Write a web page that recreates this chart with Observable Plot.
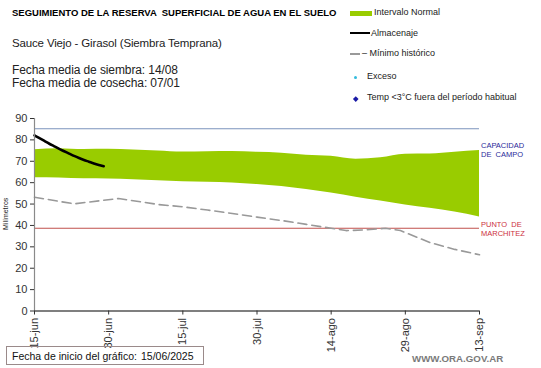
<!DOCTYPE html>
<html><head><meta charset="utf-8">
<script src="https://cdn.jsdelivr.net/npm/d3@7"></script>
<script src="https://cdn.jsdelivr.net/npm/@observablehq/plot@0.6"></script>
<style>
html,body{margin:0;padding:0;background:#fff;}
#wrap{position:relative;width:541px;height:368px;font-family:"Liberation Sans",Arial,sans-serif;overflow:hidden;}
.t{position:absolute;white-space:pre;line-height:1;}
</style></head><body>
<div id="wrap">
  <div class="t" style="left:12px;top:8px;font-size:9.5px;font-weight:bold;color:#000;">SEGUIMIENTO DE LA RESERVA  SUPERFICIAL DE AGUA EN EL SUELO</div>
  <div class="t" style="left:12px;top:38px;font-size:11.5px;letter-spacing:-0.15px;color:#222;">Sauce Viejo - Girasol (Siembra Temprana)</div>
  <div class="t" style="left:12px;top:64px;font-size:12px;letter-spacing:-0.1px;color:#222;">Fecha media de siembra: 14/08</div>
  <div class="t" style="left:12px;top:77px;font-size:12px;letter-spacing:-0.1px;color:#222;">Fecha media de cosecha: 07/01</div>

  <div style="position:absolute;left:350px;top:11px;width:22px;height:5px;background:#99cc00;"></div>
  <div class="t" style="left:374px;top:8px;font-size:9px;color:#222;">Intervalo Normal</div>
  <div style="position:absolute;left:350px;top:32px;width:20px;height:2px;background:#000;"></div>
  <div class="t" style="left:371px;top:29px;font-size:9px;color:#222;">Almacenaje</div>
  <div style="position:absolute;left:350px;top:53px;width:10px;height:1.5px;background:#999;"></div>
  <div class="t" style="left:362px;top:49px;font-size:9px;color:#222;">– Mínimo histórico</div>
  <div style="position:absolute;left:353.5px;top:76px;width:3px;height:3px;border-radius:50%;background:#33bbdd;"></div>
  <div class="t" style="left:367px;top:72px;font-size:9px;color:#222;">Exceso</div>
  <div style="position:absolute;left:353.5px;top:97px;width:3.5px;height:3.5px;transform:rotate(45deg);background:#1a1aa6;"></div>
  <div class="t" style="left:367px;top:93px;font-size:9px;color:#222;">Temp &lt;3°C fuera del período habitual</div>

  <div id="chart" style="position:absolute;left:0;top:0;"></div>

  <div class="t" style="left:481px;top:141px;font-size:7.5px;color:#2a2a9a;line-height:9px;">CAPACIDAD
DE  CAMPO</div>
  <div class="t" style="left:481px;top:220px;font-size:7.5px;color:#cc3040;line-height:9px;">PUNTO  DE
MARCHITEZ</div>
  <div class="t" style="left:2px;top:230px;font-size:7px;color:#222;transform:rotate(-90deg);transform-origin:0 0;">Milímetros</div>

  <div style="position:absolute;left:6px;top:346px;width:198px;height:19px;border:1px solid #9a8a8a;box-sizing:border-box;"></div>
  <div class="t" style="left:12px;top:351px;font-size:10.5px;color:#111;">Fecha de inicio del gráfico:</div>
  <div class="t" style="left:141px;top:351px;font-size:10.5px;color:#111;">15/06/2025</div>
  <div class="t" style="left:412px;top:354px;font-size:9.7px;font-weight:bold;color:#7a7a7a;">WWW.ORA.GOV.AR</div>
</div>
<script>
// ---- data ----
const fechaInicio = "2025-06-15";
const diasBanda = [0,5,10,15,20,25,30,35,40,45,50,55,60,65,70,75,80,85,90];
const bandaSuperior = [75.4,75.9,75.5,75.6,75.3,74.8,74.3,74.5,74.6,74.2,73.8,72.8,72.3,71.0,71.6,73.3,73.4,74.2,75.0];
const bandaInferior = [62.3,62.2,61.8,61.7,61.4,60.9,60.4,60.2,59.9,59.1,58.2,56.8,55.2,53.2,51.4,49.6,48.0,46.3,44.0];
const diasMinimo = [0,8,17,25,30,35,40,45,50,55,60,63,67,71,74,80,85,90];
const minimoHistorico = [53.2,50.1,52.6,49.8,48.7,47.2,45.6,43.9,42.3,40.5,38.7,37.6,37.9,38.7,37.6,32.0,28.8,26.3];
const diasAlmacenaje = [0,1,2,3,4,5,6,7,8,9,10,11,12,13,14];
const almacenaje = [82.1,80.8,79.5,78.2,77.0,75.8,74.7,73.6,72.5,71.5,70.6,69.8,69.0,68.3,67.7];
const capacidadCampo = 85.2;
const puntoMarchitez = 38.7;
const diasTicks = [0,15,30,45,60,75,90];
const etiquetasX = ["15-jun","30-jun","15-jul","30-jul","14-ago","29-ago","13-sep"];
const ticksY = [0,10,20,30,40,50,60,70,80,90];

// ---- build ----
const t0 = new Date(fechaInicio + "T00:00:00Z");
const toDate = d => d3.utcDay.offset(t0, d);
const banda = diasBanda.map((d,i) => ({x: toDate(d), y1: bandaInferior[i], y2: bandaSuperior[i]}));
const minimo = diasMinimo.map((d,i) => ({x: toDate(d), y: minimoHistorico[i]}));
const alm = diasAlmacenaje.map((d,i) => ({x: toDate(d), y: almacenaje[i]}));
const tickDates = diasTicks.map(toDate);
const labelOf = new Map(tickDates.map((d,i) => [+d, etiquetasX[i]]));

const chart = Plot.plot({
  width: 541, height: 368,
  marginLeft: 34, marginRight: 62, marginTop: 118, marginBottom: 57.5,
  style: {fontFamily: '"Liberation Sans", Arial, sans-serif', background: "transparent", overflow: "visible"},
  x: {type: "utc", domain: [toDate(0), toDate(90)]},
  y: {domain: [0, 90]},
  marks: [
    Plot.areaY(banda, {x: "x", y1: "y1", y2: "y2", fill: "#99cc00", curve: "monotone-x"}),
    Plot.ruleY([capacidadCampo], {stroke: "#7b93bd", strokeWidth: 1.2}),
    Plot.ruleY([puntoMarchitez], {stroke: "#c0504d", strokeWidth: 1.2}),
    Plot.lineY(minimo, {x: "x", y: "y", stroke: "#999", strokeWidth: 1.6, strokeDasharray: "9,5", curve: "linear"}),
    Plot.lineY(alm, {x: "x", y: "y", stroke: "#000", strokeWidth: 2.6, curve: "monotone-x"}),
    Plot.ruleX([toDate(0)], {y1: 0, y2: 90, stroke: "#8a8a8a", strokeWidth: 1.2}),
    Plot.ruleY([0], {stroke: "#555", strokeWidth: 1.5}),
    Plot.axisY({ticks: ticksY, tickSize: 4, tickPadding: 3, fontSize: 11, color: "#333", label: null}),
    Plot.axisX({ticks: tickDates, tickFormat: d => labelOf.get(+d), tickRotate: -90, tickSize: 4, tickPadding: 3, fontSize: 11, color: "#333", label: null})
  ]
});
document.getElementById("chart").appendChild(chart);
</script>
</body></html>
